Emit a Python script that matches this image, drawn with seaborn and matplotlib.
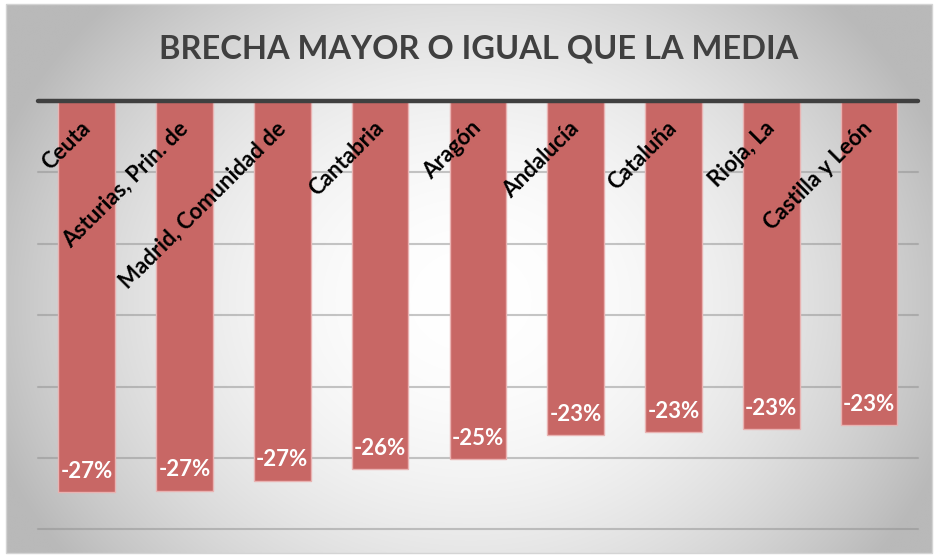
import numpy as np
import pandas as pd
import matplotlib
matplotlib.use("Agg")
import matplotlib.pyplot as plt
import seaborn as sns
from matplotlib.patches import Rectangle

categories = ["Ceuta", "Asturias, Prin. de", "Madrid, Comunidad de", "Cantabria",
              "Aragón", "Andalucía", "Cataluña", "Rioja, La", "Castilla y León"]
values = [-27.4, -27.3, -26.6, -25.8, -25.1, -23.4, -23.2, -23.0, -22.7]
title = "BRECHA MAYOR O IGUAL QUE LA MEDIA"
yticks = [0, -5, -10, -15, -20, -25, -30]

sns.set_theme(style="white")
plt.rcParams['font.family'] = ['Lato', 'DejaVu Sans']

W, H = 936, 555
fig = plt.figure(figsize=(W / 100, H / 100), dpi=100)
fig.patch.set_facecolor("white")

# background radial gradient
bg = fig.add_axes([0, 0, 1, 1], zorder=-5)
bg.set_xlim(0, W)
bg.set_ylim(H, 0)
bg.axis("off")
xx, yy = np.meshgrid(np.linspace(0, W, 300), np.linspace(0, H, 200))
dx = (xx - 470) / 468
dy = (yy - 300) / 275
g = 255 - 58 * dx ** 2 - 28 * dy ** 2
g = np.clip(g, 185, 255) / 255.0
img = np.dstack([g, g, g])
x0, x1, y0, y1 = 6, 932, 4, 553
bg.imshow(img, extent=(x0, x1, y1, y0), aspect="auto", interpolation="bilinear", zorder=0)
bg.add_patch(Rectangle((x0, y0), x1 - x0, y1 - y0, fill=False, edgecolor="#d4d4d4", lw=1, zorder=1))

# main axes
left, right, top, bottom = 37.8, 918.0, 101.0, 529.4
ax = fig.add_axes([left / W, 1 - bottom / H, (right - left) / W, (bottom - top) / H])
ax.set_facecolor("none")

df = pd.DataFrame({"cat": categories, "val": values})
sns.barplot(data=df, x="cat", y="val", color="#C86765", width=0.578, ax=ax,
            saturation=1, edgecolor="#E9B3B2", linewidth=1, zorder=3)

ax.set_xlim(-0.5, len(categories) - 0.5)
ax.set_ylim(-30, 0)
for t in yticks[1:]:
    ax.axhline(t, color="#8f8f8f", alpha=0.5, lw=1.5, zorder=1, clip_on=False)
ax.axhline(0, color="#404040", lw=3.2, zorder=5, clip_on=False)
ax.set_xticks([])
ax.set_yticks([])
ax.set_xlabel("")
ax.set_ylabel("")
for s in ax.spines.values():
    s.set_visible(False)

for i, (c, v) in enumerate(zip(categories, values)):
    ax.text(i + 0.05, -2.0, c, rotation=45, rotation_mode="anchor", ha="right",
            va="baseline", fontsize=16, fontweight="bold", color="black", zorder=6)
    ax.text(i, v + 1.47, f"{round(v):d}%", ha="center", va="center", fontsize=16,
            fontweight="bold", color="white", zorder=6)

fig.text(478.5 / W, 1 - 49 / H, title, ha="center", va="center", fontsize=23.5,
         fontweight="bold", color="#404040")

fig.savefig("out.png", dpi=100)
